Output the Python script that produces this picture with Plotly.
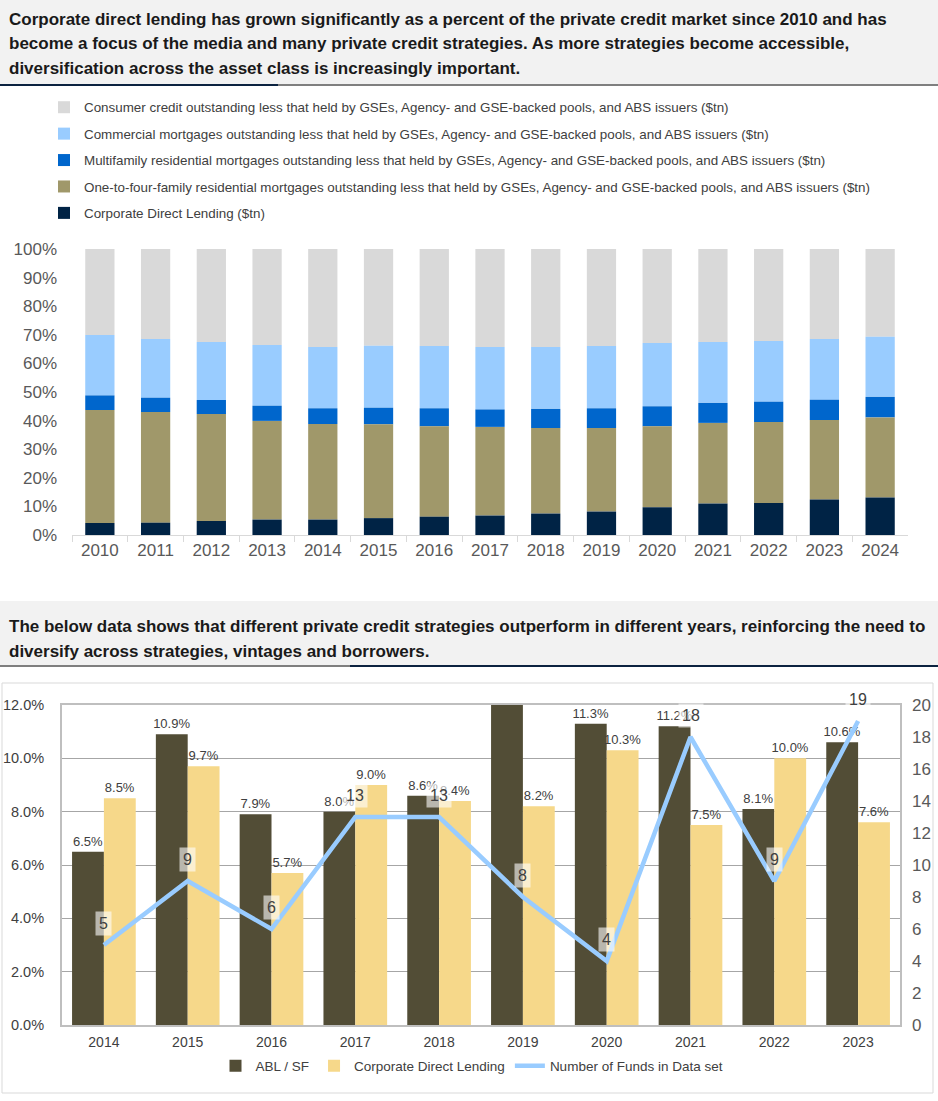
import numpy as np
import plotly.graph_objects as go

W, H = 938, 1101

# ---------------- data: top chart (share of private credit market, %) ----------------
years_top = [str(y) for y in range(2010, 2025)]
corporate_dl = [4.2, 4.3, 4.9, 5.4, 5.4, 5.9, 6.4, 6.8, 7.5, 8.2, 9.7, 11.0, 11.2, 12.4, 13.1]
one_to_four = [39.5, 38.7, 37.4, 34.5, 33.4, 32.8, 31.6, 31.0, 29.9, 29.2, 28.3, 28.2, 28.3, 27.8, 28.0]
multifamily = [5.1, 5.0, 4.9, 5.3, 5.5, 5.8, 6.3, 6.1, 6.7, 6.9, 7.0, 7.0, 7.1, 7.1, 7.2]
commercial = [21.1, 20.5, 20.3, 21.2, 21.4, 21.7, 21.8, 21.8, 21.6, 21.8, 22.1, 21.3, 21.2, 21.2, 21.0]
consumer = [30.1, 31.5, 32.5, 33.6, 34.3, 33.8, 33.9, 34.3, 34.3, 33.9, 32.9, 32.5, 32.2, 31.5, 30.7]

top_names = [
    "Corporate Direct Lending ($tn)",
    "One-to-four-family residential mortgages outstanding less that held by GSEs, Agency- and GSE-backed pools, and ABS issuers ($tn)",
    "Multifamily residential mortgages outstanding less that held by GSEs, Agency- and GSE-backed pools, and ABS issuers ($tn)",
    "Commercial mortgages outstanding less that held by GSEs, Agency- and GSE-backed pools, and ABS issuers ($tn)",
    "Consumer credit outstanding less that held by GSEs, Agency- and GSE-backed pools, and ABS issuers ($tn)",
]
top_series = [corporate_dl, one_to_four, multifamily, commercial, consumer]
top_colors = ["#002345", "#A0986A", "#0066CC", "#99CCFF", "#D9D9D9"]
top_ticks = [0, 10, 20, 30, 40, 50, 60, 70, 80, 90, 100]

# ---------------- data: bottom chart ----------------
years_bot = [str(y) for y in range(2014, 2024)]
abl_sf = [6.5, 10.9, 7.9, 8.0, 8.6, 12.9, 11.3, 11.2, 8.1, 10.6]
abl_labels = ["6.5%", "10.9%", "7.9%", "8.0%", "8.6%", "", "11.3%", "11.2%", "8.1%", "10.6%"]
cdl = [8.5, 9.7, 5.7, 9.0, 8.4, 8.2, 10.3, 7.5, 10.0, 7.6]
n_funds = [5, 9, 6, 13, 13, 8, 4, 18, 9, 19]

FONT = "Arial, Liberation Sans, sans-serif"


def px(x):
    return x / W


def py(y):
    return 1 - y / H


fig = go.Figure()

# top stacked bars (stack bases built from the series themselves)
arrs = [np.array(v, dtype=float) for v in top_series]
bases = []
cum = np.zeros(len(years_top))
for a in arrs:
    bases.append(cum.copy())
    cum = cum + a
# add from top segment to bottom so the legend lists Consumer first
for name, vals, base, col in reversed(list(zip(top_names, arrs, bases, top_colors))):
    fig.add_trace(go.Bar(
        x=years_top, y=vals, base=base, name=name,
        marker=dict(color=col, line=dict(width=0)),
        width=0.525, offsetgroup="top",
        xaxis="x", yaxis="y", legend="legend", legendgroup=name,
    ))

# bottom bars
fig.add_trace(go.Bar(
    x=years_bot, y=abl_sf, name="ABL / SF",
    marker=dict(color="#524D36", line=dict(width=0)),
    text=abl_labels, textposition="outside", cliponaxis=True, constraintext="none",
    textfont=dict(size=13, color="#404040", family=FONT),
    width=0.38, offsetgroup="abl",
    xaxis="x2", yaxis="y2", legend="legend2",
))
fig.add_trace(go.Bar(
    x=years_bot, y=cdl, name="Corporate Direct Lending",
    marker=dict(color="#F6D88A", line=dict(width=0)),
    text=[f"{v:.1f}%" for v in cdl], textposition="outside", cliponaxis=False, constraintext="none",
    textfont=dict(size=13, color="#404040", family=FONT),
    width=0.38, offsetgroup="cdl",
    xaxis="x2", yaxis="y2", legend="legend2",
))
fig.add_trace(go.Scatter(
    x=years_bot, y=n_funds, name="Number of Funds in Data set",
    mode="lines", line=dict(color="#99CCFF", width=4.5),
    xaxis="x2", yaxis="y3", legend="legend2", cliponaxis=False,
))

annotations = []
# labels for line points (x given as category index)
for i, n in enumerate(n_funds):
    annotations.append(dict(
        x=i, y=n, xref="x2", yref="y3", text=str(n), showarrow=False,
        yshift=22, font=dict(size=16, color="#404040", family=FONT),
        bgcolor="rgba(255,255,255,0.6)", borderpad=3,
    ))

# titles
title1 = [
    "Corporate direct lending has grown significantly as a percent of the private credit market since 2010 and has",
    "become a focus of the media and many private credit strategies. As more strategies become accessible,",
    "diversification across the asset class is increasingly important.",
]
for i, line in enumerate(title1):
    annotations.append(dict(
        x=px(7), y=py(19 + 24.5 * i), xref="paper", yref="paper", xanchor="left", yanchor="middle",
        text="<b>" + line + "</b>", showarrow=False,
        font=dict(size=17, color="#1A1A1A", family=FONT),
    ))
title2 = [
    "The below data shows that different private credit strategies outperform in different years, reinforcing the need to",
    "diversify across strategies, vintages and borrowers.",
]
for i, line in enumerate(title2):
    annotations.append(dict(
        x=px(7), y=py(626 + 25 * i), xref="paper", yref="paper", xanchor="left", yanchor="middle",
        text="<b>" + line + "</b>", showarrow=False,
        font=dict(size=17, color="#1A1A1A", family=FONT),
    ))

shapes = [
    # top band
    dict(type="rect", xref="paper", yref="paper", x0=0, x1=1, y0=py(85), y1=py(0),
         fillcolor="#F2F2F2", line=dict(width=0), layer="below"),
    dict(type="line", xref="paper", yref="paper", x0=0, x1=px(278), y0=py(85), y1=py(85),
         line=dict(color="#0C2340", width=2)),
    dict(type="line", xref="paper", yref="paper", x0=px(278), x1=1, y0=py(85), y1=py(85),
         line=dict(color="#7F7F7F", width=2)),
    # bottom band
    dict(type="rect", xref="paper", yref="paper", x0=0, x1=1, y0=py(666), y1=py(601),
         fillcolor="#F2F2F2", line=dict(width=0), layer="below"),
    dict(type="line", xref="paper", yref="paper", x0=0, x1=px(350), y0=py(666), y1=py(666),
         line=dict(color="#7F7F7F", width=2)),
    dict(type="line", xref="paper", yref="paper", x0=px(350), x1=1, y0=py(666), y1=py(666),
         line=dict(color="#0C2340", width=2)),
    # outer border bottom chart
    dict(type="rect", xref="paper", yref="paper", x0=px(2), x1=px(933), y0=py(1093), y1=py(683),
         line=dict(color="#D9D9D9", width=1), fillcolor="rgba(0,0,0,0)", layer="below"),
]

fig.update_layout(
    width=W, height=H,
    margin=dict(l=0, r=0, t=0, b=0, pad=0),
    paper_bgcolor="white", plot_bgcolor="rgba(0,0,0,0)",
    barmode="group", bargap=0.24, bargroupgap=0,
    font=dict(family=FONT, color="#595959"),
    showlegend=True,
    xaxis=dict(domain=[px(72), px(908)], anchor="y", type="category", automargin=False,
               showline=True, linecolor="#D9D9D9", linewidth=1,
               ticks="outside", tickson="boundaries", ticklen=6, tickcolor="#D9D9D9",
               tickfont=dict(size=17, color="#595959"), showgrid=False),
    yaxis=dict(domain=[py(535), py(249)], anchor="x", range=[0, 100], automargin=False,
               tickvals=top_ticks, ticktext=[f"{t}%" for t in top_ticks],
               tickfont=dict(size=17, color="#595959"), showgrid=False, zeroline=False,
               showline=False, ticks="", ticklabelstandoff=14),
    xaxis2=dict(domain=[px(62), px(900)], anchor="y2", type="category", automargin=False,
                showline=True, linecolor="#BFBFBF", linewidth=2, mirror=True,
                ticks="", tickfont=dict(size=14, color="#404040"), showgrid=False,
                ticklabelstandoff=3),
    yaxis2=dict(domain=[py(1025), py(705)], anchor="x2", range=[0, 12], dtick=2, automargin=False,
                tickformat=".1f", ticksuffix="%",
                showline=True, linecolor="#BFBFBF", linewidth=2, mirror=True,
                showgrid=True, gridcolor="#A6A6A6", gridwidth=1, zeroline=False,
                tickfont=dict(size=14.5, color="#404040"), ticks="", ticklabelstandoff=13),
    yaxis3=dict(overlaying="y2", side="right", anchor="x2", range=[0, 20], dtick=2, automargin=False,
                showgrid=False, zeroline=False, showline=False,
                tickfont=dict(size=17, color="#595959"), ticks="", ticklabelstandoff=11),
    legend=dict(x=px(44), y=py(92), xanchor="left", yanchor="top", orientation="v",
                traceorder="grouped", tracegroupgap=6,
                font=dict(size=13.4, color="#404040"), itemwidth=30,
                bgcolor="rgba(0,0,0,0)"),
    legend2=dict(x=px(472), y=py(1066), xanchor="center", yanchor="middle", orientation="h",
                 font=dict(size=13.5, color="#404040"), bgcolor="rgba(0,0,0,0)",
                 traceorder="normal"),
    annotations=annotations,
    shapes=shapes,
)

fig.write_html("out.html", config={"displayModeBar": False},
               post_script="document.body.style.margin='0';document.body.style.overflow='hidden';")
